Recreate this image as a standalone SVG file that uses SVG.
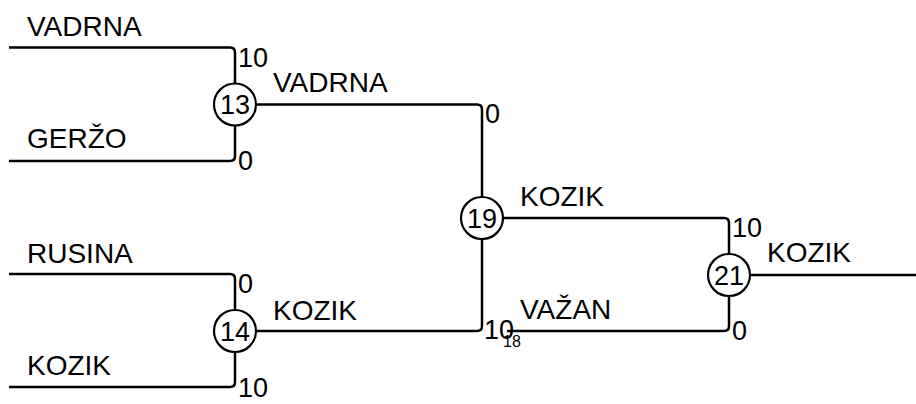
<svg xmlns="http://www.w3.org/2000/svg" width="916" height="404" viewBox="0 0 916 404">
<style>
.ln{fill:none;stroke:#000;stroke-width:2.5}
.nd{fill:#fff;stroke:#000;stroke-width:2.2}
text{font-family:"Liberation Sans",Arial,sans-serif;fill:#000}
.lb{font-size:28px}
.sc{font-size:27px}
.nm{font-size:27px;text-anchor:middle}
.sm{font-size:16px}
</style>
<rect width="916" height="404" fill="#fff"/>
<g id="connectors">
<path class="ln" d="M9,47.5 H230 Q235,47.5 235,52.5 V83.5"/>
<path class="ln" d="M9,161 H230 Q235,161 235,156 V125.5"/>
<path class="ln" d="M9,274 H230 Q235,274 235,279 V310"/>
<path class="ln" d="M9,387 H230 Q235,387 235,382 V352"/>
<path class="ln" d="M256,104.5 H477 Q482,104.5 482,109.5 V197"/>
<path class="ln" d="M256,331 H477 Q482,331 482,326 V239"/>
<path class="ln" d="M503,218 H724 Q729,218 729,223 V254"/>
<path class="ln" d="M507,331 H724 Q729,331 729,326 V296"/>
<path class="ln" d="M750,275 H916"/>
</g>
<g id="labels">
<text class="lb" x="27" y="36">VADRNA</text>
<text class="lb" x="27" y="148">GERŽO</text>
<text class="lb" x="27" y="263">RUSINA</text>
<text class="lb" x="27" y="375">KOZIK</text>
<text class="lb" x="273" y="92">VADRNA</text>
<text class="lb" x="273" y="320">KOZIK</text>
<text class="lb" x="520" y="206">KOZIK</text>
<text class="lb" x="520" y="319">VAŽAN</text>
<text class="lb" x="767" y="262">KOZIK</text>
<text class="sc" x="238" y="67">10</text>
<text class="sc" x="238" y="170">0</text>
<text class="sc" x="238" y="293">0</text>
<text class="sc" x="238" y="397">10</text>
<text class="sc" x="485" y="123">0</text>
<text class="sc" x="484" y="339">10</text>
<text class="sc" x="732" y="237">10</text>
<text class="sc" x="732" y="340">0</text>
<text class="sm" x="503" y="347">18</text>
</g>
<g id="node13"><circle class="nd" cx="235" cy="104.5" r="21"/><text class="nm" x="235" y="114">13</text></g>
<g id="node14"><circle class="nd" cx="235" cy="331" r="21"/><text class="nm" x="235" y="340.5">14</text></g>
<g id="node19"><circle class="nd" cx="482" cy="218" r="21"/><text class="nm" x="482" y="227.5">19</text></g>
<g id="node21"><circle class="nd" cx="729" cy="275" r="21"/><text class="nm" x="729" y="284.5">21</text></g>
</svg>
